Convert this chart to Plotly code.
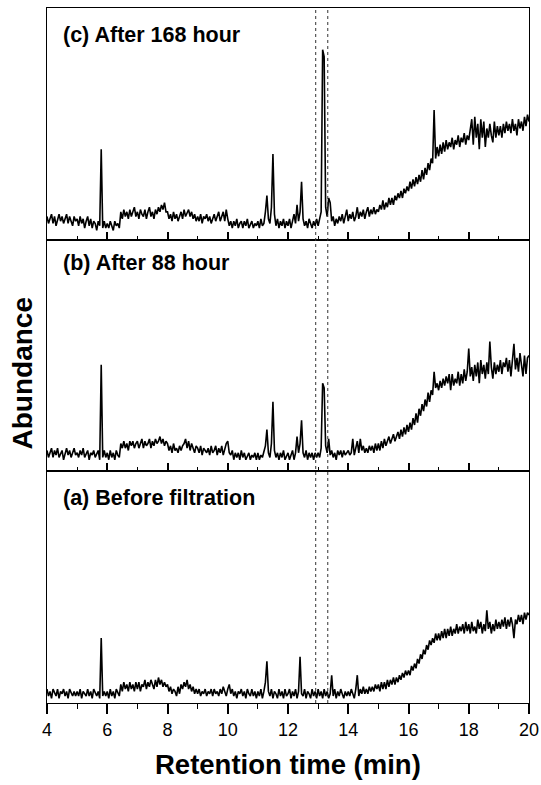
import plotly.graph_objects as go
from plotly.subplots import make_subplots

# Retention time grid (min): 4.00 .. 20.00, sampled every 0.05 min
t_start = 4.0
t_step = 0.05
n_points = 321
retention_time = [round(t_start + t_step * i, 2) for i in range(n_points)]

# Abundance (arbitrary units, 0-100 per panel), one row per minute (4.00-4.95, 5.00-5.95, ...)
abundance_c = [
    10, 7, 9, 11, 7, 10, 6, 9, 11, 8, 10, 7, 9, 11, 7, 10, 8, 6, 10, 8,
    9, 6, 10, 7, 9, 5, 8, 10, 6, 9, 5, 8, 7, 4, 8, 6, 39, 5, 8, 5,
    7, 5, 8, 6, 4, 8, 6, 7, 5, 12, 9, 13, 10, 12, 9, 13, 10, 12, 14, 10,
    12, 9, 13, 11, 10, 13, 9, 12, 14, 10, 12, 9, 13, 11, 14, 12, 15, 13, 16, 12,
    12, 9, 11, 8, 12, 9, 11, 8, 10, 12, 9, 13, 10, 12, 13, 10, 12, 9, 11, 8,
    10, 8, 11, 7, 10, 9, 11, 8, 10, 7, 9, 11, 8, 10, 12, 8, 10, 12, 8, 13,
    9, 6, 8, 5, 8, 6, 9, 5, 7, 8, 5, 8, 6, 9, 5, 7, 8, 5, 7, 6,
    8, 5, 9, 6, 7, 12, 19, 9, 7, 14, 37, 11, 6, 9, 5, 8, 6, 9, 5, 8,
    6, 9, 5, 8, 11, 7, 15, 8, 12, 25, 9, 6, 8, 5, 9, 7, 5, 8, 6, 9,
    6, 9, 12, 82, 79, 14, 10, 18, 16, 8, 10, 6, 9, 7, 10, 8, 11, 7, 10, 13,
    8, 11, 9, 12, 8, 10, 14, 9, 12, 10, 13, 9, 12, 14, 10, 13, 11, 14, 11, 13,
    12, 15, 13, 17, 13, 16, 14, 18, 15, 18, 15, 19, 17, 20, 18, 21, 18, 22, 20, 23,
    21, 25, 22, 26, 23, 27, 24, 28, 25, 30, 26, 31, 28, 33, 30, 35, 33, 56, 35, 40,
    36, 41, 37, 42, 38, 43, 39, 42, 40, 44, 39, 43, 41, 45, 40, 44, 42, 46, 41, 45,
    43, 48, 52, 41, 53, 44, 50, 39, 52, 44, 51, 40, 48, 44, 50, 45, 42, 51, 44, 49,
    45, 49, 44, 50, 46, 51, 47, 50, 46, 52, 47, 50, 45, 52, 48, 51, 47, 53, 49, 54,
    51,
]

abundance_b = [
    9, 6, 8, 10, 6, 9, 7, 10, 6, 8, 9, 5, 8, 10, 7, 9, 6, 8, 10, 7,
    8, 6, 9, 7, 10, 6, 8, 9, 5, 8, 7, 9, 6, 8, 9, 5, 46, 6, 9, 6,
    8, 5, 9, 6, 8, 5, 9, 7, 6, 12, 10, 13, 10, 12, 9, 13, 11, 13, 10, 12,
    13, 10, 12, 14, 10, 13, 11, 12, 14, 10, 13, 11, 14, 12, 13, 15, 12, 14, 11, 13,
    12, 9, 11, 8, 12, 9, 10, 8, 11, 9, 11, 12, 14, 10, 13, 9, 12, 10, 8, 11,
    10, 8, 11, 7, 10, 9, 8, 10, 7, 11, 8, 9, 11, 7, 10, 8, 11, 7, 10, 12,
    13, 8, 7, 9, 5, 8, 6, 8, 5, 9, 6, 8, 5, 7, 8, 5, 7, 6, 8, 5,
    8, 5, 7, 6, 8, 11, 18, 8, 6, 12, 30, 9, 6, 8, 5, 8, 6, 9, 5, 7,
    8, 5, 7, 9, 5, 8, 15, 8, 12, 22, 8, 6, 9, 5, 8, 6, 8, 5, 8, 6,
    8, 6, 10, 38, 36, 11, 8, 14, 7, 9, 6, 8, 5, 9, 7, 9, 6, 9, 7, 8,
    9, 7, 8, 14, 7, 10, 13, 8, 14, 9, 11, 8, 10, 8, 11, 9, 11, 8, 12, 9,
    12, 9, 13, 10, 14, 11, 13, 15, 12, 14, 16, 13, 15, 17, 14, 18, 15, 19, 16, 20,
    17, 21, 18, 23, 20, 25, 21, 27, 24, 29, 26, 31, 28, 34, 30, 35, 33, 43, 36, 38,
    35, 39, 36, 40, 37, 41, 38, 42, 35, 42, 37, 40, 38, 43, 37, 42, 38, 44, 39, 43,
    53, 41, 45, 39, 46, 41, 47, 38, 48, 42, 46, 40, 47, 42, 56, 45, 40, 47, 42, 46,
    43, 48, 42, 47, 45, 49, 43, 48, 41, 47, 55, 44, 49, 43, 51, 46, 41, 50, 42, 49,
    50,
]

abundance_a = [
    6, 3, 5, 2, 6, 4, 3, 6, 2, 5, 4, 6, 3, 5, 2, 6, 4, 3, 5, 3,
    5, 3, 6, 2, 5, 4, 3, 6, 3, 5, 2, 6, 4, 3, 5, 2, 28, 3, 5, 3,
    5, 2, 6, 3, 5, 2, 6, 4, 3, 8, 5, 9, 6, 8, 5, 9, 6, 8, 5, 9,
    6, 9, 5, 8, 7, 10, 6, 9, 7, 10, 8, 6, 10, 7, 11, 8, 10, 7, 9, 7,
    8, 5, 7, 4, 6, 5, 3, 7, 4, 8, 6, 9, 7, 10, 6, 8, 5, 7, 4, 6,
    4, 6, 3, 5, 4, 6, 3, 5, 4, 6, 3, 6, 4, 5, 3, 6, 4, 7, 5, 3,
    6, 8, 4, 6, 3, 5, 2, 5, 4, 6, 3, 5, 2, 6, 4, 3, 6, 3, 5, 2,
    5, 3, 6, 2, 5, 9, 18, 5, 3, 6, 2, 5, 4, 2, 6, 3, 5, 2, 6, 3,
    4, 6, 2, 5, 3, 6, 2, 5, 20, 4, 3, 6, 2, 5, 4, 2, 6, 3, 5, 2,
    6, 3, 5, 2, 6, 3, 5, 2, 4, 12, 3, 6, 2, 5, 3, 6, 4, 2, 5, 3,
    5, 3, 6, 4, 2, 6, 12, 3, 6, 4, 7, 4, 6, 4, 7, 5, 7, 5, 8, 6,
    8, 5, 9, 6, 9, 6, 10, 7, 10, 8, 11, 8, 11, 9, 12, 10, 13, 11, 14, 12,
    14, 12, 16, 14, 17, 15, 19, 17, 21, 19, 23, 21, 25, 23, 27, 25, 28, 26, 30, 27,
    30, 27, 31, 28, 32, 28, 32, 29, 33, 29, 32, 30, 34, 30, 33, 31, 34, 30, 35, 31,
    34, 30, 35, 31, 33, 30, 36, 32, 35, 30, 34, 31, 40, 32, 35, 30, 34, 31, 36, 32,
    35, 32, 36, 33, 37, 32, 36, 33, 37, 34, 28, 36, 34, 38, 35, 38, 34, 39, 36, 39,
    38,
]

panel_labels = ["(c) After 168 hour", "(b) After 88 hour", "(a) Before filtration"]
marker_times = [12.92, 13.32]
x_range = [4, 20]
x_major = 2
x_minor = 1

FONT = "Arial, 'Liberation Sans', Helvetica, sans-serif"

fig = make_subplots(rows=3, cols=1, shared_xaxes=True, vertical_spacing=0)

series = [abundance_c, abundance_b, abundance_a]
for row, ys in enumerate(series, start=1):
    fig.add_trace(
        go.Scatter(x=retention_time, y=ys, mode="lines",
                   line=dict(color="black", width=1.6), showlegend=False,
                   hoverinfo="skip"),
        row=row, col=1,
    )

for row in (1, 2, 3):
    bottom = row == 3
    fig.update_xaxes(
        range=x_range, dtick=x_major, tick0=0, automargin=False,
        showline=True, mirror=True, linecolor="black", linewidth=1.2,
        showgrid=False, zeroline=False,
        ticks="outside" if bottom else "inside",
        ticklen=10 if bottom else 8, tickwidth=1.5, tickcolor="black",
        minor=dict(dtick=x_minor, tick0=0, ticks="outside" if bottom else "inside",
                   ticklen=5 if bottom else 4, tickwidth=1.2, tickcolor="black",
                   showgrid=False),
        showticklabels=bottom,
        tickfont=dict(family=FONT, size=18, color="black"),
        row=row, col=1,
    )
    fig.update_yaxes(
        range=[0, 100], showline=True, mirror=True, linecolor="black",
        linewidth=1.2, showgrid=False, zeroline=False, ticks="",
        automargin=False, showticklabels=False, row=row, col=1,
    )

for t in marker_times:
    fig.add_shape(type="line", xref="x", yref="paper", x0=t, x1=t, y0=0, y1=1,
                  line=dict(color="#333333", width=1, dash="dot"), layer="above")

label_y = [0.961, 0.633, 0.295]
for txt, yy in zip(panel_labels, label_y):
    fig.add_annotation(text=txt, xref="paper", yref="paper", x=0.030, y=yy,
                       xanchor="left", yanchor="middle", showarrow=False,
                       font=dict(family=FONT, size=21.5, color="black", weight="bold"))

fig.add_annotation(text="Retention time (min)", xref="paper", yref="paper",
                   x=0.5, y=-0.089, xanchor="center", yanchor="middle",
                   showarrow=False,
                   font=dict(family=FONT, size=27.5, color="black", weight="bold"))
fig.add_annotation(text="Abundance", xref="paper", yref="paper",
                   x=-0.05, y=0.474, xanchor="center", yanchor="middle",
                   textangle=-90, showarrow=False,
                   font=dict(family=FONT, size=28, color="black", weight="bold"))

fig.update_layout(
    width=541, height=785,
    margin=dict(l=47, r=12, t=8, b=82),
    paper_bgcolor="white", plot_bgcolor="white",
)

fig.write_html("out.html")
